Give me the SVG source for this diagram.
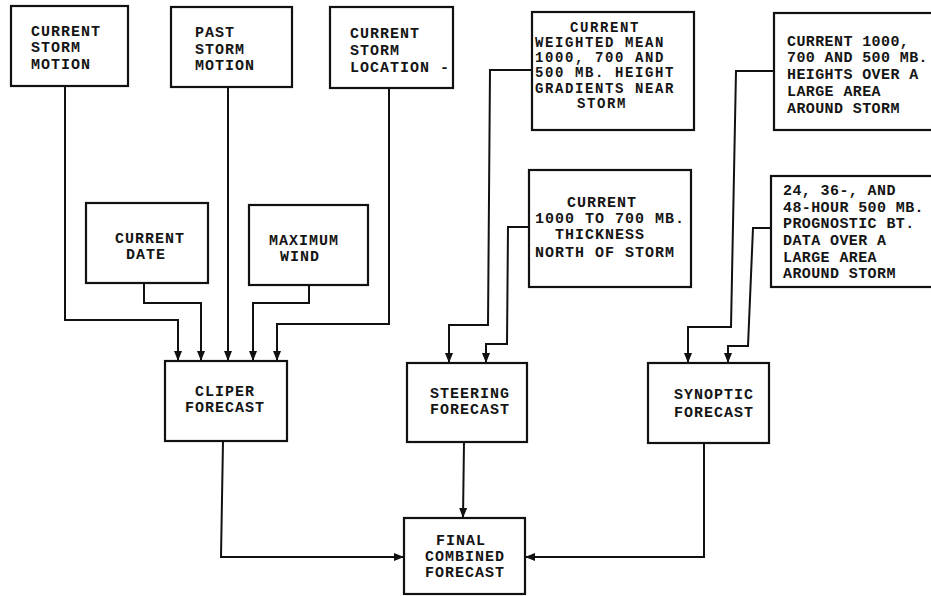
<svg xmlns="http://www.w3.org/2000/svg" width="931" height="596" viewBox="0 0 931 596">
<defs>
<style>
.box{fill:#fff;stroke:#111;stroke-width:2.2}
.t{font-family:"Liberation Mono",monospace;font-weight:bold;font-size:15px;letter-spacing:1px;fill:#151515}
.s{font-size:14px;letter-spacing:1.6px}
.n{letter-spacing:0.4px}
.m{text-anchor:middle}
.c{fill:none;stroke:#111;stroke-width:2}
</style>
<marker id="ah" viewBox="0 0 10 8" markerWidth="10" markerHeight="8" refX="10" refY="4" orient="auto" markerUnits="userSpaceOnUse">
<path d="M0,0 L10,4 L0,8 Z" fill="#111"/>
</marker>
</defs>
<rect width="931" height="596" fill="#fff"/>
<g id="connectors">
<polyline class="c" points="65,86 65,320 178,320 178,361" marker-end="url(#ah)"/>
<polyline class="c" points="144,283 144,303 201,303 201,361" marker-end="url(#ah)"/>
<polyline class="c" points="228,87 228,361" marker-end="url(#ah)"/>
<polyline class="c" points="309,285 309,303 253,303 253,361" marker-end="url(#ah)"/>
<polyline class="c" points="389,88 389,324 277,324 277,361" marker-end="url(#ah)"/>
<polyline class="c" points="532,70 490,70 488,325 449,325 449,363" marker-end="url(#ah)"/>
<polyline class="c" points="529,227 508,227 507,344 486,344 486,363" marker-end="url(#ah)"/>
<polyline class="c" points="774,71 736,71 731,327 688,327 688,363" marker-end="url(#ah)"/>
<polyline class="c" points="771,228 753,228 748,346 728,346 728,363" marker-end="url(#ah)"/>
<polyline class="c" points="223,441 221,557 404,557" marker-end="url(#ah)"/>
<polyline class="c" points="464,442 463,518" marker-end="url(#ah)"/>
<polyline class="c" points="704,443 704,557 525,557" marker-end="url(#ah)"/>
</g>
<g id="current-storm-motion">
<rect class="box" x="11" y="6" width="117" height="80"/>
<text class="t" x="31" y="36">CURRENT</text>
<text class="t" x="31" y="52">STORM</text>
<text class="t" x="31" y="69">MOTION</text>
</g>
<g id="past-storm-motion">
<rect class="box" x="171" y="7" width="121" height="80"/>
<text class="t" x="195" y="37">PAST</text>
<text class="t" x="195" y="54">STORM</text>
<text class="t" x="195" y="70">MOTION</text>
</g>
<g id="current-storm-location">
<rect class="box" x="330" y="7" width="123" height="81"/>
<text class="t" x="350" y="38">CURRENT</text>
<text class="t" x="350" y="55">STORM</text>
<text class="t" x="350" y="72">LOCATION -</text>
</g>
<g id="weighted-mean-gradients">
<rect class="box" x="532" y="12" width="162" height="118"/>
<text class="t s" x="570" y="32">CURRENT</text>
<text class="t s" x="535" y="47">WEIGHTED MEAN</text>
<text class="t s" x="535" y="62">1000, 700 AND</text>
<text class="t s" x="535" y="77">500 MB. HEIGHT</text>
<text class="t s" x="535" y="93">GRADIENTS NEAR</text>
<text class="t s" x="577" y="108">STORM</text>
</g>
<g id="heights-large-area">
<rect class="box" x="774" y="13" width="170" height="117"/>
<text class="t n" x="787" y="46">CURRENT 1000,</text>
<text class="t n" x="787" y="62">700 AND 500 MB.</text>
<text class="t n" x="787" y="79">HEIGHTS OVER A</text>
<text class="t n" x="787" y="96">LARGE AREA</text>
<text class="t n" x="787" y="113">AROUND STORM</text>
</g>
<g id="current-date">
<rect class="box" x="86" y="203" width="122" height="80"/>
<text class="t m" x="150" y="243">CURRENT</text>
<text class="t m" x="146" y="259">DATE</text>
</g>
<g id="maximum-wind">
<rect class="box" x="249" y="205" width="119" height="80"/>
<text class="t m" x="304" y="245">MAXIMUM</text>
<text class="t m" x="300" y="261">WIND</text>
</g>
<g id="thickness">
<rect class="box" x="529" y="170" width="162" height="117"/>
<text class="t" x="567" y="207">CURRENT</text>
<text class="t" x="535" y="223">1000 TO 700 MB.</text>
<text class="t" x="555" y="239">THICKNESS</text>
<text class="t" x="535" y="257">NORTH OF STORM</text>
</g>
<g id="prognostic-data">
<rect class="box" x="771" y="176" width="170" height="111"/>
<text class="t n" x="783" y="195">24, 36-, AND</text>
<text class="t n" x="783" y="212">48-HOUR 500 MB.</text>
<text class="t n" x="783" y="228">PROGNOSTIC BT.</text>
<text class="t n" x="783" y="245">DATA OVER A</text>
<text class="t n" x="783" y="262">LARGE AREA</text>
<text class="t n" x="783" y="278">AROUND STORM</text>
</g>
<g id="cliper-forecast">
<rect class="box" x="165" y="361" width="122" height="80"/>
<text class="t m" x="225" y="396">CLIPER</text>
<text class="t m" x="225" y="412">FORECAST</text>
</g>
<g id="steering-forecast">
<rect class="box" x="407" y="363" width="120" height="79"/>
<text class="t m" x="470" y="398">STEERING</text>
<text class="t m" x="470" y="414">FORECAST</text>
</g>
<g id="synoptic-forecast">
<rect class="box" x="648" y="363" width="121" height="80"/>
<text class="t m" x="714" y="399">SYNOPTIC</text>
<text class="t m" x="714" y="417">FORECAST</text>
</g>
<g id="final-combined-forecast">
<rect class="box" x="404" y="518" width="121" height="76"/>
<text class="t m" x="461" y="545">FINAL</text>
<text class="t m" x="465" y="561">COMBINED</text>
<text class="t m" x="465" y="577">FORECAST</text>
</g>
</svg>
